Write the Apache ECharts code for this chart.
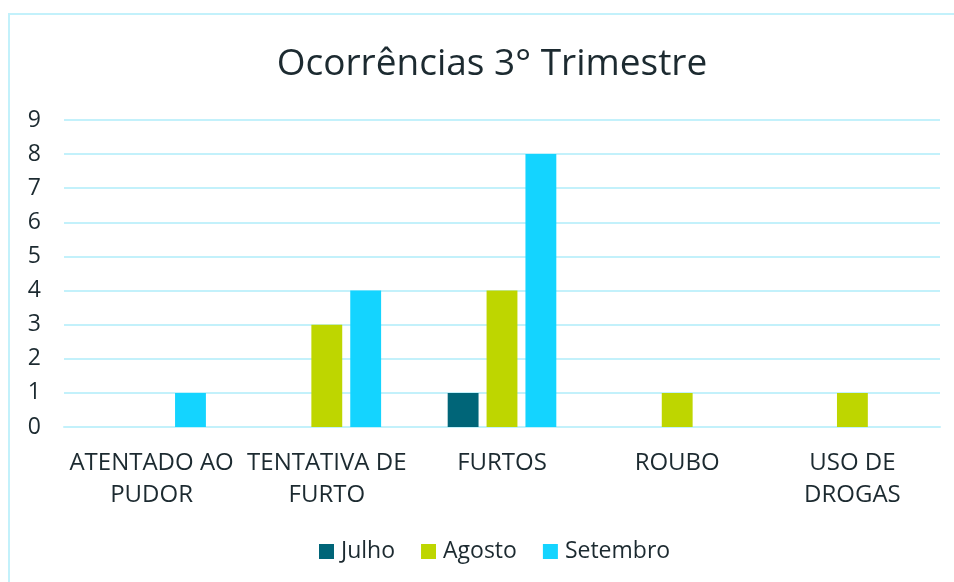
<!DOCTYPE html>
<html>
<head>
<meta charset="utf-8">
<script src="https://cdn.jsdelivr.net/npm/echarts@6/dist/echarts.min.js"></script>
<style>
  html, body { margin: 0; padding: 0; background: #fff; }
  #chart { width: 954px; height: 582px; }
</style>
</head>
<body>
<div id="chart"></div>
<script>
const categories = ['ATENTADO AO\nPUDOR', 'TENTATIVA DE\nFURTO', 'FURTOS', 'ROUBO', 'USO DE\nDROGAS'];
const julho = [null, null, 1, null, null];
const agosto = [null, 3, 4, 1, 1];
const setembro = [1, 4, 8, null, null];
const yTicks = [0, 9, 1]; // min, max, interval

const textColor = '#1c2a30';
const gridColor = '#c3f1fb';

const chart = echarts.init(document.getElementById('chart'), null, { renderer: 'canvas' });

const mkSeries = (name, data, color) => ({
  name,
  type: 'bar',
  data,
  barGap: '26%',
  barCategoryGap: '38%',
  itemStyle: { color }
});

chart.setOption({
  animation: false,
  textStyle: { fontFamily: 'Open Sans' },
  graphic: [{
    type: 'rect',
    shape: { x: 9, y: 14, width: 1000, height: 600 },
    style: { fill: 'none', stroke: gridColor, lineWidth: 2 },
    silent: true
  }],
  title: {
    text: 'Ocorrências 3° Trimestre',
    left: 487,
    top: 41,
    textAlign: 'center',
    textStyle: { fontFamily: 'Open Sans', fontSize: 37, fontWeight: 'normal', color: textColor }
  },
  legend: {
    bottom: 14,
    left: 314,
    itemWidth: 15,
    itemHeight: 15,
    itemGap: 26,
    icon: 'rect',
    textStyle: { fontFamily: 'Open Sans', fontSize: 23, color: textColor, padding: [0, 0, 0, 2] },
    data: ['Julho', 'Agosto', 'Setembro']
  },
  grid: { left: 64, right: 14, top: 120, bottom: 155, containLabel: false },
  xAxis: {
    type: 'category',
    data: categories,
    axisLine: { show: true, lineStyle: { color: gridColor, width: 2 } },
    axisTick: { show: false },
    axisLabel: {
      fontFamily: 'Open Sans',
      fontSize: 24,
      color: textColor,
      lineHeight: 32,
      margin: 20,
      interval: 0
    }
  },
  yAxis: {
    type: 'value',
    min: yTicks[0],
    max: yTicks[1],
    interval: yTicks[2],
    axisLine: { show: false },
    axisTick: { show: false },
    splitLine: { lineStyle: { color: gridColor, width: 2 } },
    axisLabel: { fontFamily: 'Open Sans', fontSize: 23, color: textColor, margin: 23 }
  },
  series: [
    mkSeries('Julho', julho, '#006578'),
    mkSeries('Agosto', agosto, '#bed600'),
    mkSeries('Setembro', setembro, '#14d4ff')
  ]
});
</script>
</body>
</html>
